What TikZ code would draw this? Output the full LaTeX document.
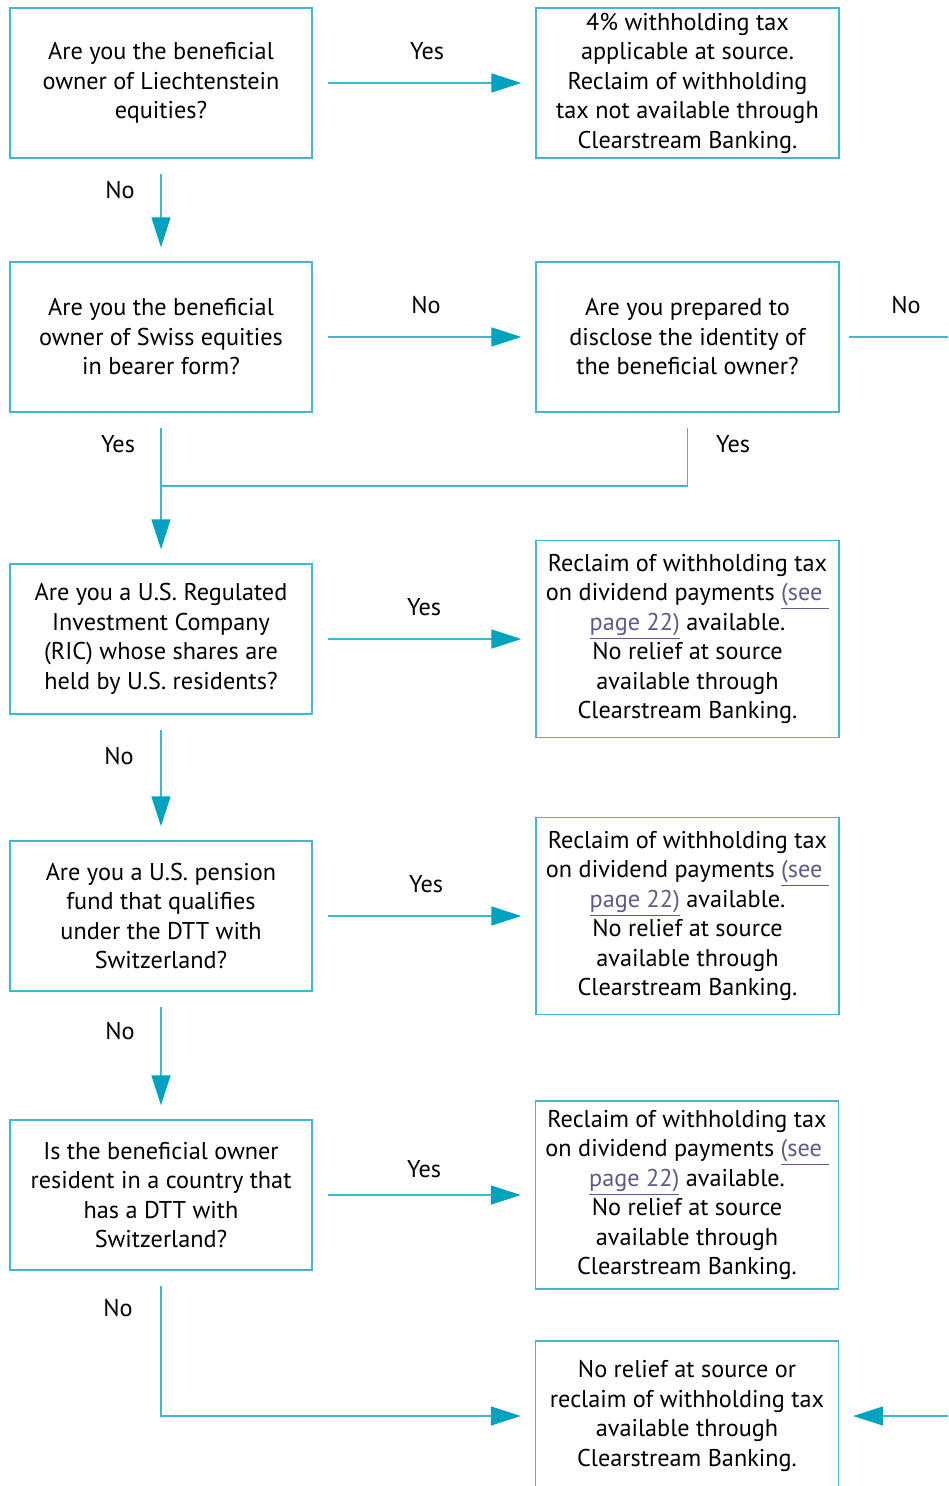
\documentclass[tikz,border=0pt]{standalone}
\usepackage{fontspec}
\setmainfont{PT Sans}
\usetikzlibrary{arrows.meta}

\definecolor{boxcyan}{RGB}{60,185,208}
\definecolor{tipcyan}{RGB}{0,163,191}
\definecolor{linkgray}{RGB}{95,90,135}
\newcommand{\lnk}[1]{\textcolor{linkgray}{\underline{#1}}}

\tikzset{
	qbox/.style={draw=boxcyan,line width=0.8pt,minimum width=6.04cm,minimum height=3cm,
		inner sep=0pt,align=center,font=\fontsize{13.8pt}{16.8pt}\selectfont},
	abox/.style={qbox,minimum width=6.06cm},
	lbl/.style={inner sep=0pt,font=\fontsize{13.8pt}{16.8pt}\selectfont},
	wire/.style={draw=boxcyan,line width=0.8pt,shorten <=0.3cm},
	flow/.style={wire,shorten >=0.28cm,
		-{Triangle[length=0.6cm,width=0.38cm,color=tipcyan,fill=tipcyan]}}
}

\begin{document}
\begin{tikzpicture}[x=0.02cm,y=-0.02cm]
\clip (0,0) rectangle (948,1486);

% questions on the left
\node[qbox] (q1) at (161,83) {Are you the beneficial\\owner of Liechtenstein\\equities?};
\node[qbox] (q2) at (161,337) {Are you the beneficial\\owner of Swiss equities\\in bearer form?};
\node[qbox] (q3) at (161,639) {Are you a U.S. Regulated\\Investment Company\\(RIC) whose shares are\\held by U.S. residents?};
\node[qbox] (q4) at (161,916) {Are you a U.S. pension\\fund that qualifies\\under the DTT with\\Switzerland?};
\node[qbox] (q5) at (161,1195) {Is the beneficial owner\\resident in a country that\\has a DTT with\\Switzerland?};

% answers on the right
\node[abox] (r1) at (687.5,83) {4\% withholding tax\\applicable at source.\\Reclaim of withholding\\tax not available through\\Clearstream Banking.};
\node[abox] (r2) at (687.5,337) {Are you prepared to\\disclose the identity of\\the beneficial owner?};
\node[abox,minimum height=3.94cm] (r3) at (687.5,639) {Reclaim of withholding tax\\on dividend payments \lnk{(see\ }\\\lnk{page 22)} available.\\No relief at source\\available through\\Clearstream Banking.};
\node[abox,minimum height=3.94cm] (r4) at (687.5,916) {Reclaim of withholding tax\\on dividend payments \lnk{(see\ }\\\lnk{page 22)} available.\\No relief at source\\available through\\Clearstream Banking.};
\node[abox,minimum height=3.76cm] (r5) at (687,1195) {Reclaim of withholding tax\\on dividend payments \lnk{(see\ }\\\lnk{page 22)} available.\\No relief at source\\available through\\Clearstream Banking.};
\node[abox] (fin) at (687,1416) {No relief at source or\\reclaim of withholding tax\\available through\\Clearstream Banking.};

\coordinate (join) at (161,486);
\coordinate (outR) at (948,337);
\coordinate (inR) at (948,1416);

% connectors
\draw[flow] (q1.east) -- (r1.west);
\draw[flow] (q1.south) -- (q2.north);
\draw[flow] (q2.east) -- (r2.west);
\draw[wire,shorten <=0.18cm] (r2.east) -- (outR);
\draw[wire] (r2.south) |- (join);
\draw[flow] (q2.south) -- (q3.north);
\draw[flow] (q3.east) -- (r3.west);
\draw[flow] (q3.south) -- (q4.north);
\draw[flow] (q4.east) -- (r4.west);
\draw[flow] (q4.south) -- (q5.north);
\draw[flow] (q5.east) -- (r5.west);
\draw[flow] (q5.south) |- (fin.west);
\draw[flow,shorten <=0pt] (inR) -- (fin.east);

% answers on the connectors
\node[lbl] (y1) at (427,51) {Yes};
\node[lbl] (n1) at (120,190) {No};
\node[lbl] (n2) at (426,305) {No};
\node[lbl] (n3) at (906,305) {No};
\node[lbl] (y2) at (118,444) {Yes};
\node[lbl] (y3) at (733,444) {Yes};
\node[lbl] (y4) at (424,607) {Yes};
\node[lbl] (n4) at (119,756) {No};
\node[lbl] (y5) at (426,884) {Yes};
\node[lbl] (n5) at (120,1031) {No};
\node[lbl] (y6) at (424,1169) {Yes};
\node[lbl] (n6) at (118,1308) {No};
\end{tikzpicture}
\end{document}
